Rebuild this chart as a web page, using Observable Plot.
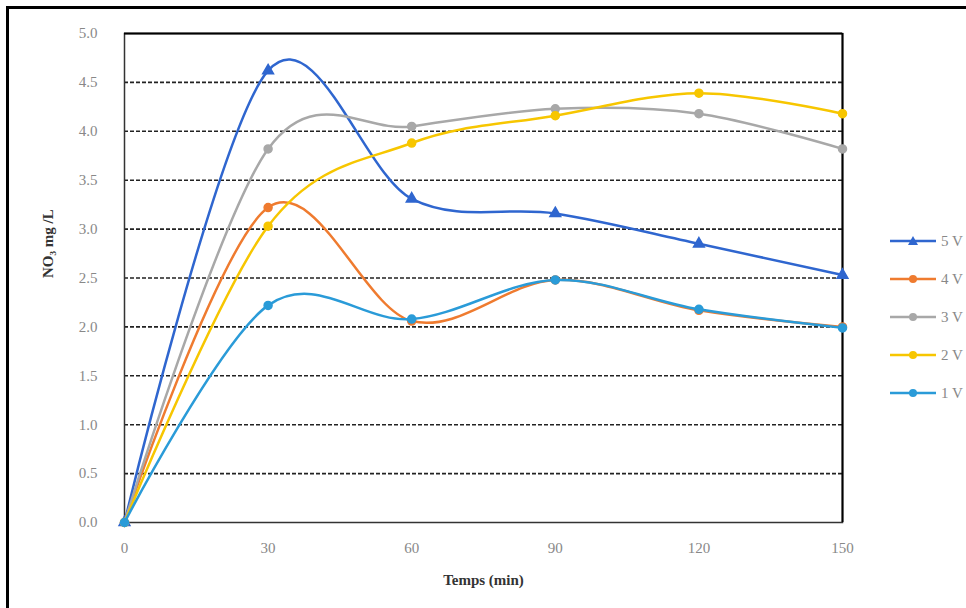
<!DOCTYPE html>
<html>
<head>
<meta charset="utf-8">
<script src="https://cdn.jsdelivr.net/npm/d3@7"></script>
<script src="https://cdn.jsdelivr.net/npm/@observablehq/plot@0.6"></script>
<style>
  html, body { margin: 0; padding: 0; background: #fff; }
  #wrap { position: relative; width: 966px; height: 608px; overflow: hidden; }
  #border { position: absolute; left: 6px; top: 6px; width: 1000px; height: 700px; border: 3px solid #000; box-sizing: border-box; }
  #chart { position: absolute; left: 0; top: 0; }
  #legend { position: absolute; left: 889px; top: 222px; font-family: "Liberation Serif", serif; font-size: 15px; color: #888; }
  .item { display: flex; align-items: center; height: 38px; }
  .item svg { margin-right: 4px; }
</style>
</head>
<body>
<div id="wrap">
  <div id="border"></div>
  <div id="chart"></div>
  <div id="legend"></div>
</div>
<script>
const times = [0, 30, 60, 90, 120, 150];
const seriesNames = ["5 V", "4 V", "3 V", "2 V", "1 V"];
const v5 = [0, 4.62, 3.31, 3.16, 2.85, 2.53];
const v4 = [0, 3.22, 2.06, 2.48, 2.17, 2.00];
const v3 = [0, 3.82, 4.05, 4.23, 4.18, 3.82];
const v2 = [0, 3.03, 3.88, 4.16, 4.39, 4.18];
const v1 = [0, 2.22, 2.08, 2.48, 2.18, 1.99];
const colors = ["#2f66cf", "#ef7b2f", "#a8a8a8", "#f7c600", "#2a9bd8"];
const symbols = ["triangle", "circle", "circle", "circle", "circle"];
const yTicks = [0, 0.5, 1, 1.5, 2, 2.5, 3, 3.5, 4, 4.5, 5];
const gridTicks = [0.5, 1, 1.5, 2, 2.5, 3, 3.5, 4, 4.5];

const allValues = [v5, v4, v3, v2, v1];
const data = [];
allValues.forEach((vals, i) => {
  vals.forEach((v, j) => data.push({series: seriesNames[i], t: times[j], v}));
});

const marks = [
  Plot.ruleY(gridTicks, {stroke: "#222", strokeWidth: 1.6, strokeDasharray: "4,2"}),
  Plot.frame({stroke: "#333", strokeWidth: 1.5}),
  Plot.ruleX([150], {stroke: "#000", strokeWidth: 2}),
  Plot.ruleY([5], {stroke: "#000", strokeWidth: 2}),
  Plot.axisX({ticks: times, tickSize: 0, tickPadding: 20, fontSize: 15, fill: "#888",
    label: "Temps (min)", labelAnchor: "center", labelArrow: "none", labelOffset: 62}),
  Plot.axisY({ticks: yTicks, tickSize: 0, tickPadding: 27, fontSize: 15, fill: "#888",
    tickFormat: d => d.toFixed(1),
    label: null})
];
seriesNames.forEach((s, i) => {
  const d = data.filter(o => o.series === s);
  marks.push(Plot.line(d, {x: "t", y: "v", stroke: colors[i], strokeWidth: 2.5, curve: "cardinal"}));
  marks.push(Plot.dot(d, {x: "t", y: "v", fill: colors[i], stroke: colors[i], symbol: symbols[i], r: 4}));
});
marks.push(Plot.text(["NO₃ mg /L"], {frameAnchor: "left", dx: -76, rotate: -90, fontSize: 15, fontWeight: "bold", fill: "#333"}));

const chart = Plot.plot({
  width: 966,
  height: 608,
  marginLeft: 124,
  marginRight: 124,
  marginTop: 33,
  marginBottom: 86,
  style: {fontFamily: "Liberation Serif, serif", background: "transparent", overflow: "visible"},
  x: {domain: [0, 150]},
  y: {domain: [0, 5]},
  marks
});
chart.querySelectorAll("[aria-label='x-axis label'] text, g[aria-label='x-axis label']").forEach(e => {
  e.setAttribute("font-weight", "bold"); e.setAttribute("fill", "#333"); e.setAttribute("font-size", "15");
});
document.getElementById("chart").appendChild(chart);

const legend = document.getElementById("legend");
seriesNames.forEach((s, i) => {
  const item = document.createElement("div");
  item.className = "item";
  const sym = symbols[i] === "triangle"
    ? `<path d="M24,1 L29,10 L19,10 Z" fill="${colors[i]}"/>`
    : `<circle cx="24" cy="6" r="4" fill="${colors[i]}"/>`;
  item.innerHTML = `<svg width="48" height="12"><line x1="1" y1="6" x2="47" y2="6" stroke="${colors[i]}" stroke-width="2.5"/>${sym}</svg><span>${s}</span>`;
  legend.appendChild(item);
});
</script>
</body>
</html>
